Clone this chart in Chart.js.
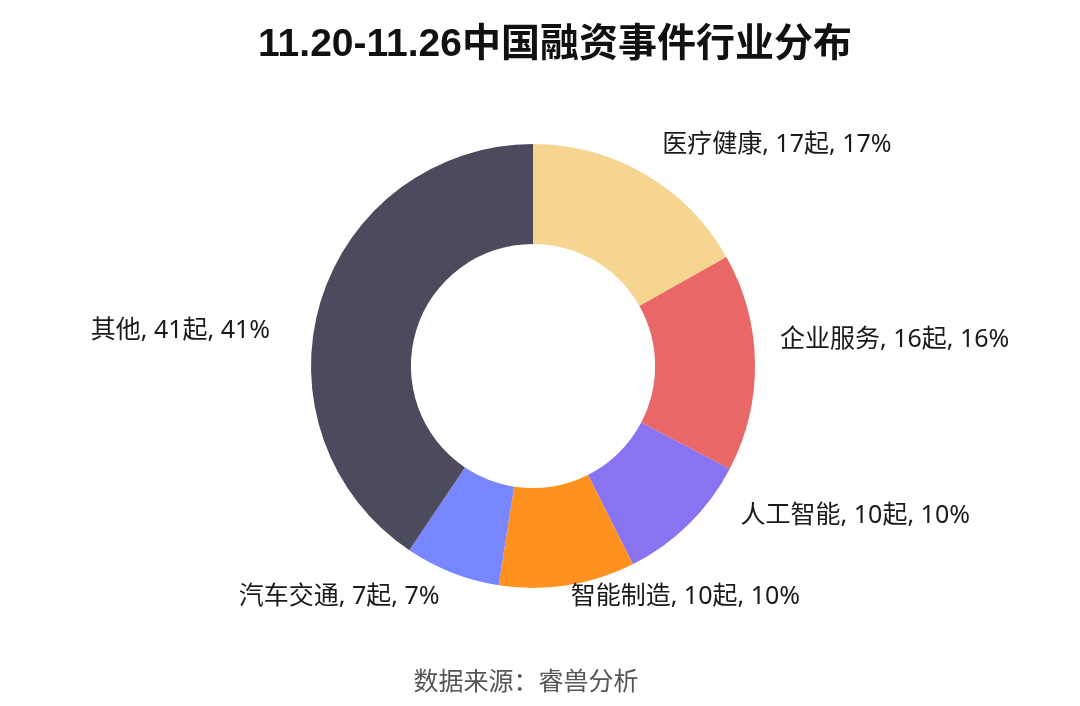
<!DOCTYPE html>
<html>
<head>
<meta charset="utf-8">
<script src="https://cdn.jsdelivr.net/npm/chart.js@4.4.1/dist/chart.umd.min.js"></script>
<style>
  html, body { margin: 0; padding: 0; background: #ffffff; }
  #wrap { width: 1080px; height: 706px; position: relative; }
</style>
</head>
<body>
<div id="wrap"><canvas id="c" width="1080" height="706"></canvas></div>
<script>
// ---- data ----
const titleText = '11.20-11.26中国融资事件行业分布';
const sourceText = '数据来源：睿兽分析';
const categories = ['医疗健康', '企业服务', '人工智能', '智能制造', '汽车交通', '其他'];
const counts = [17, 16, 10, 10, 7, 41];
const percents = [17, 16, 10, 10, 7, 41];
const unitText = '起';

// ---- styles ----
const colors = ['#F6D590', '#EA6767', '#8A73F0', '#FF921F', '#7886FF', '#4B4B5D'];
const labelFont = '25px "Noto Sans", "Noto Sans CJK SC", sans-serif';
// small layout nudges for outside labels (dx, dy) to reduce overlaps like the original
const labelNudge = [[0, 0], [-9, -22], [28, -33], [-2, -22], [0, -7], [-18, 39]];

const labelsPlugin = {
  id: 'outsideLabels',
  afterDatasetsDraw(chart) {
    const ctx = chart.ctx;
    const meta = chart.getDatasetMeta(0);
    ctx.save();
    ctx.font = labelFont;
    ctx.fillStyle = '#1a1a1a';
    ctx.textBaseline = 'middle';
    meta.data.forEach((arc, i) => {
      const p = arc.getProps(['x', 'y', 'startAngle', 'endAngle', 'outerRadius'], true);
      const mid = (p.startAngle + p.endAngle) / 2;
      const r = p.outerRadius + 34;
      const x = p.x + Math.cos(mid) * r + labelNudge[i][0];
      const y = p.y + Math.sin(mid) * r + labelNudge[i][1];
      ctx.textAlign = Math.cos(mid) >= 0 ? 'left' : 'right';
      ctx.fillText(categories[i] + ', ' + counts[i] + unitText + ', ' + percents[i] + '%', x, y);
    });
    ctx.restore();
  }
};

const textPlugin = {
  id: 'titleSource',
  afterDraw(chart) {
    const ctx = chart.ctx;
    ctx.save();
    ctx.textAlign = 'center';
    ctx.textBaseline = 'middle';
    ctx.fillStyle = '#111111';
    ctx.font = 'bold 39px "Liberation Sans", "Noto Sans CJK SC", sans-serif';
    ctx.fillText(titleText, 555, 45);
    ctx.fillStyle = '#555555';
    ctx.font = '25px "Noto Sans CJK SC", "Noto Sans", sans-serif';
    ctx.fillText(sourceText, 526, 680);
    ctx.restore();
  }
};

new Chart(document.getElementById('c'), {
  type: 'doughnut',
  data: {
    labels: categories,
    datasets: [{
      data: counts,
      backgroundColor: colors,
      borderWidth: 0,
      hoverOffset: 0
    }]
  },
  options: {
    responsive: false,
    animation: false,
    cutout: '55%',
    rotation: 0,
    layout: { padding: { left: 311, right: 325, top: 144, bottom: 118 } },
    plugins: {
      legend: { display: false },
      title: { display: false },
      tooltip: { enabled: false }
    }
  },
  plugins: [labelsPlugin, textPlugin]
});
</script>
</body>
</html>
